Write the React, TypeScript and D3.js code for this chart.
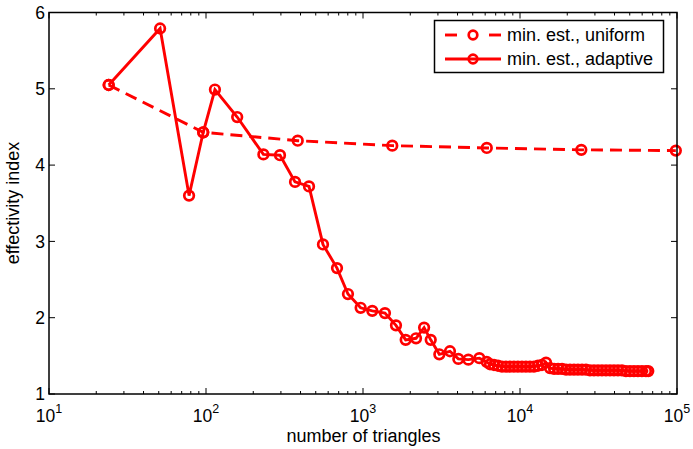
import * as d3 from "d3";

// uniform refinement: 24 * 4^k triangles
const xUniform = [24, 96, 384, 1536, 6144, 24576, 98304];
const yUniform = [5.05, 4.43, 4.32, 4.255, 4.225, 4.2, 4.19];

// adaptive refinement
const xAdaptive = [
  24, 51, 78, 96, 114, 158, 232, 296, 369, 453, 556, 683, 802, 966, 1146, 1380,
  1622, 1870, 2176, 2450, 2700, 3063, 3580, 4047, 4688, 5509, 6135, 6442, 6830,
  7240, 7680, 8140, 8630, 9150, 9700, 10290, 10910, 11570, 12270, 13020, 13800,
  14650, 15530, 16480, 17470, 18530, 19650, 20820, 22080, 23400, 24830, 26320,
  27920, 29600, 31400, 33280, 35300, 37420, 39680, 42080, 44620, 47310, 50170,
  53200, 56410, 59800, 63420, 65600,
];
const yAdaptive = [
  5.05, 5.79, 3.6, 4.43, 4.99, 4.63, 4.14, 4.13, 3.78, 3.72, 2.96, 2.65, 2.31,
  2.13, 2.09, 2.06, 1.9, 1.71, 1.73, 1.87, 1.71, 1.52, 1.56, 1.46, 1.45, 1.47,
  1.42, 1.39, 1.38, 1.37, 1.36, 1.36, 1.36, 1.36, 1.36, 1.36, 1.36, 1.36, 1.36,
  1.37, 1.38, 1.41, 1.34, 1.33, 1.33, 1.33, 1.32, 1.32, 1.32, 1.32, 1.32, 1.32,
  1.31, 1.31, 1.31, 1.31, 1.31, 1.31, 1.31, 1.31, 1.31, 1.3, 1.3, 1.3, 1.3, 1.3,
  1.3, 1.3,
];

const xTicks = [10, 100, 1000, 10000, 100000];
const yTicks = [1, 2, 3, 4, 5, 6];
const legendLabels = ["min. est., uniform", "min. est., adaptive"];

const W = 693;
const H = 449;
const left = 49;
const right = 677;
const top = 12.5;
const bottom = 394;
const red = "#ff0000";
const font = "'Liberation Sans', Arial, sans-serif";

export default function App() {
  const x = d3.scaleLog().domain([10, 100000]).range([left, right]);
  const y = d3.scaleLinear().domain([1, 6]).range([bottom, top]);

  const line = d3
    .line<number>()
    .x((d) => d[0])
    .y((d) => d[1]);

  const uni = xUniform.map((v, i) => [x(v), y(yUniform[i])]);
  const ada = xAdaptive.map((v, i) => [x(v), y(yAdaptive[i])]);

  // minor log ticks 2..9 per decade
  const minor: number[] = [];
  for (let e = 1; e < 5; e++) {
    for (let m = 2; m < 10; m++) minor.push(m * Math.pow(10, e));
  }

  return (
    <svg
      width={W}
      height={H}
      style={{ position: "absolute", left: 0, top: 0, background: "#fff" }}
      fontFamily={font}
    >
      <rect width={W} height={H} fill="#fff" />

      {/* ticks */}
      <g stroke="#000" strokeWidth={1}>
        {xTicks.map((t) => (
          <g key={"xt" + t}>
            <line x1={x(t)} x2={x(t)} y1={bottom} y2={bottom - 6} />
            <line x1={x(t)} x2={x(t)} y1={top} y2={top + 6} />
          </g>
        ))}
        {minor.map((t) => (
          <g key={"xm" + t}>
            <line x1={x(t)} x2={x(t)} y1={bottom} y2={bottom - 3} />
            <line x1={x(t)} x2={x(t)} y1={top} y2={top + 3} />
          </g>
        ))}
        {yTicks.map((t) => (
          <g key={"yt" + t}>
            <line x1={left} x2={left + 6} y1={y(t)} y2={y(t)} />
            <line x1={right} x2={right - 6} y1={y(t)} y2={y(t)} />
          </g>
        ))}
      </g>

      {/* data */}
      <path
        d={line(uni as any) || ""}
        fill="none"
        stroke={red}
        strokeWidth={2.9}
        strokeDasharray="12 7"
      />
      <path d={line(ada as any) || ""} fill="none" stroke={red} strokeWidth={2.9} />
      {uni.map((p, i) => (
        <circle key={"u" + i} cx={p[0]} cy={p[1]} r={4.8} fill="none" stroke={red} strokeWidth={2.7} />
      ))}
      {ada.map((p, i) => (
        <circle key={"a" + i} cx={p[0]} cy={p[1]} r={4.8} fill="none" stroke={red} strokeWidth={2.7} />
      ))}

      {/* box */}
      <rect
        x={left}
        y={top}
        width={right - left}
        height={bottom - top}
        fill="none"
        stroke="#000"
        strokeWidth={1.5}
      />

      {/* tick labels */}
      <g fontSize={17.5} fill="#000">
        {yTicks.map((t) => (
          <text key={"yl" + t} x={left - 4} y={y(t)} dy="0.36em" textAnchor="end">
            {t}
          </text>
        ))}
        {xTicks.map((t) => (
          <text key={"xl" + t} x={x(t)} y={422} textAnchor="middle">
            10
            <tspan fontSize={12.5} dy={-9}>
              {Math.round(Math.log10(t))}
            </tspan>
          </text>
        ))}
      </g>

      {/* axis labels */}
      <text x={363.5} y={442} textAnchor="middle" fontSize={18}>
        number of triangles
      </text>
      <text transform="translate(19,203) rotate(-90)" textAnchor="middle" fontSize={18}>
        effectivity index
      </text>

      {/* legend */}
      <rect x={434.5} y={20.5} width={229} height={52} fill="#fff" stroke="#000" strokeWidth={1.5} />
      {legendLabels.map((lab, i) => {
        const ly = 35 + i * 24;
        return (
          <g key={lab}>
            {i === 0 ? (
              <g stroke={red} strokeWidth={2.9}>
                <line x1={445} x2={457} y1={ly} y2={ly} />
                <line x1={489} x2={501} y1={ly} y2={ly} />
              </g>
            ) : (
              <line x1={445} x2={501} y1={ly} y2={ly} stroke={red} strokeWidth={2.9} />
            )}
            <circle cx={473} cy={ly} r={4.3} fill="none" stroke={red} strokeWidth={2.7} />
            <text x={507} y={ly} dy="0.36em" fontSize={18}>
              {lab}
            </text>
          </g>
        );
      })}
    </svg>
  );
}
